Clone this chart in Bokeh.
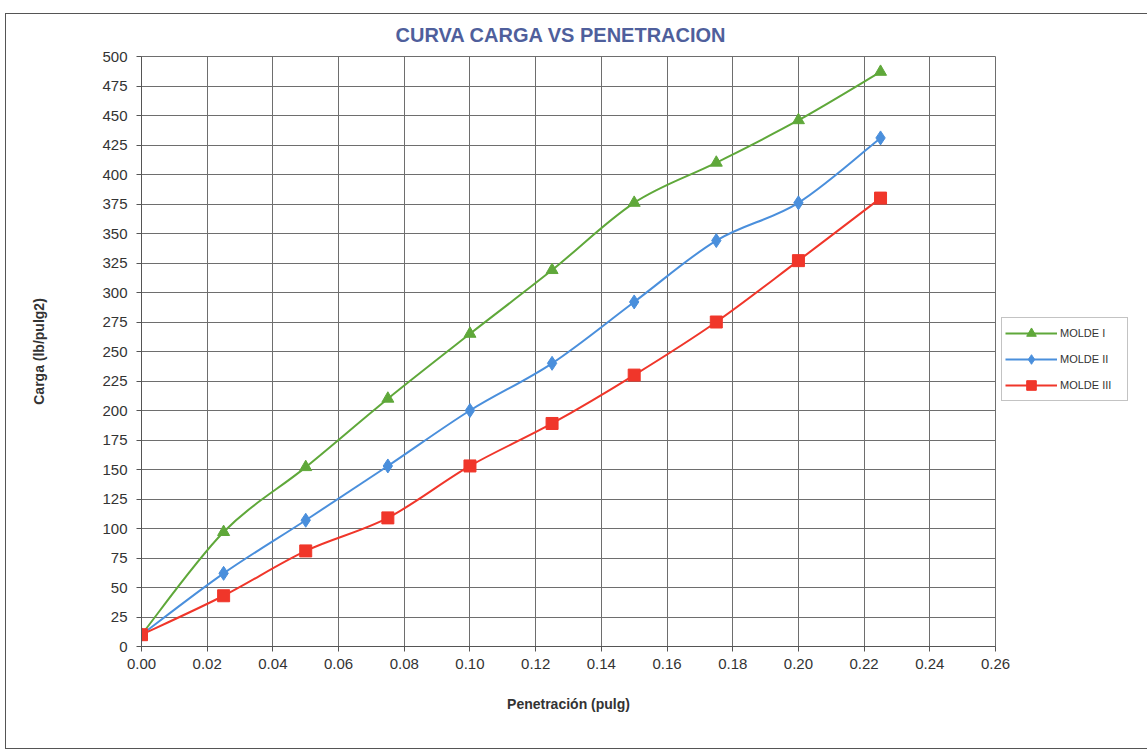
import numpy as np
from bokeh.plotting import figure
from bokeh.models import Range1d, Legend, LegendItem, NumeralTickFormatter, FixedTicker
from bokeh.embed import file_html
from bokeh.resources import INLINE

# ---- data ----
penetracion = [0.0, 0.025, 0.05, 0.075, 0.10, 0.125, 0.15, 0.175, 0.20, 0.225]
molde_i = [10, 97, 152, 210, 265, 319, 376, 410, 446, 487]
molde_ii = [10, 62, 107, 153, 200, 240, 292, 344, 376, 431]
molde_iii = [10, 43, 81, 109, 153, 189, 230, 275, 327, 380]
series_names = ["MOLDE I", "MOLDE II", "MOLDE III"]
x_ticks = [0.00, 0.02, 0.04, 0.06, 0.08, 0.10, 0.12, 0.14, 0.16, 0.18, 0.20, 0.22, 0.24, 0.26]
y_ticks = list(range(0, 501, 25))

FONT = "Liberation Sans"
TXT = "#333333"
GRID = "#6e6e6e"


def smooth_segments(xs, ys):
    """Excel-like smoothed line: cubic Bezier control points from neighbours."""
    xs = np.asarray(xs, float)
    ys = np.asarray(ys, float)
    n = len(xs)
    px = np.concatenate([[xs[0]], xs, [xs[-1]]])
    py = np.concatenate([[ys[0]], ys, [ys[-1]]])
    x0, y0, x1, y1, cx0, cy0, cx1, cy1 = ([] for _ in range(8))
    for i in range(n - 1):
        j = i + 1
        x0.append(px[j]); y0.append(py[j])
        x1.append(px[j + 1]); y1.append(py[j + 1])
        cx0.append(px[j] + (px[j + 1] - px[j - 1]) / 6.0)
        cy0.append(py[j] + (py[j + 1] - py[j - 1]) / 6.0)
        cx1.append(px[j + 1] - (px[j + 2] - px[j]) / 6.0)
        cy1.append(py[j + 1] - (py[j + 2] - py[j]) / 6.0)
    return dict(x0=x0, y0=y0, x1=x1, y1=y1, cx0=cx0, cy0=cy0, cx1=cx1, cy1=cy1)


p = figure(
    frame_width=854, frame_height=590,
    x_range=Range1d(0, 0.26), y_range=Range1d(0, 500),
    output_backend="svg", toolbar_location=None,
    min_border_left=141, min_border_right=0,
    min_border_top=53, min_border_bottom=105,
    title="CURVA CARGA VS PENETRACION",
)
LINE = "linear-gradient(#555555,#555555)"
p.styles = {
    "margin-top": "3px",
    "background-color": "white",
    "background-image": ",".join([LINE] * 4),
    "background-repeat": "no-repeat",
    "background-size": "calc(100% - 10px) 1px, calc(100% - 10px) 1px, 1px 736px, 1px 736px",
    "background-position": "5px 10px, 5px 745px, 5px 10px, right 4px top 10px",
}

p.title.align = "left"
p.title.offset = 254
p.title.text_font = FONT
p.title.text_font_size = "20px"
p.title.text_font_style = "bold"
p.title.text_color = "#4f5f9c"
p.title.standoff = 22

p.background_fill_color = "white"
p.border_fill_color = None
p.outline_line_color = GRID
p.outline_line_width = 1

for ax in (p.xaxis[0], p.yaxis[0]):
    ax.axis_line_color = "#555555"
    ax.major_tick_line_color = "#555555"
    ax.major_tick_out = 5
    ax.major_tick_in = 0
    ax.minor_tick_line_color = None
    ax.major_label_text_font = FONT
    ax.major_label_text_font_size = "15px"
    ax.major_label_text_color = TXT
    ax.axis_label_text_font = FONT
    ax.axis_label_text_font_size = "14px"
    ax.axis_label_text_font_style = "bold"
    ax.axis_label_text_color = TXT

p.xaxis.ticker = FixedTicker(ticks=x_ticks)
p.xaxis.formatter = NumeralTickFormatter(format="0.00")
p.xaxis.axis_label = "Penetración (pulg)"
p.xaxis.major_label_standoff = 7
p.xaxis.axis_label_standoff = 24

p.yaxis.ticker = FixedTicker(ticks=y_ticks)
p.yaxis.axis_label = "Carga (lb/pulg2)"
p.yaxis.major_label_standoff = 9
p.yaxis.axis_label_standoff = 52

p.xgrid.ticker = FixedTicker(ticks=x_ticks)
p.ygrid.ticker = FixedTicker(ticks=y_ticks)
for g in (p.xgrid[0], p.ygrid[0]):
    g.grid_line_color = GRID
    g.grid_line_width = 1

colors = ["#5fa83a", "#4a8fdc", "#f0362a"]
markers = ["triangle", "diamond", "square"]
sizes = [12, 14, 12]
data = [molde_i, molde_ii, molde_iii]

items = []
for name, ys, c, m, s in zip(series_names, data, colors, markers, sizes):
    seg = smooth_segments(penetracion, ys)
    br = p.bezier(x0="x0", y0="y0", x1="x1", y1="y1", cx0="cx0", cy0="cy0",
                  cx1="cx1", cy1="cy1", source=seg, line_color=c, line_width=2)
    sr = p.scatter(penetracion, ys, marker=m, size=s, fill_color=c, line_color=c)
    items.append(LegendItem(label=name, renderers=[br, sr]))

legend = Legend(items=items, location=(6, 245), orientation="vertical")
legend.margin = 0
legend.padding = 3
legend.spacing = 2
legend.glyph_height = 24
legend.label_height = 24
legend.glyph_width = 52
legend.label_standoff = 3
legend.label_width = 64
legend.label_text_font = FONT
legend.label_text_font_size = "11px"
legend.label_text_color = TXT
legend.border_line_color = "#888888"
legend.border_line_width = 1
legend.background_fill_color = "white"
p.add_layout(legend, "right")

open("out.html", "w").write(file_html(p, INLINE))
